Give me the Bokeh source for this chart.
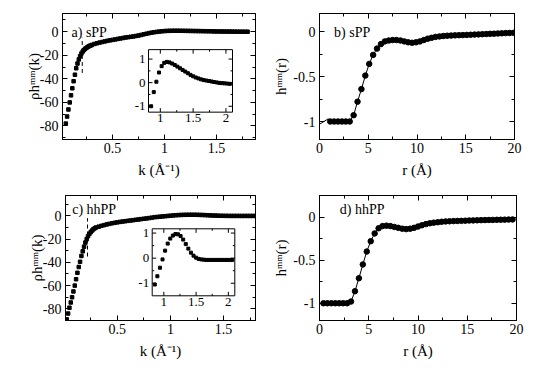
from bokeh.plotting import figure
from bokeh.layouts import column, row
from bokeh.models import (Range1d, LinearAxis, SingleIntervalTicker, Label, CustomJSTickFormatter,
                          CustomLabelingPolicy)
from bokeh.core.properties import value
from bokeh.embed import file_html
from bokeh.resources import INLINE

SERIF = "Liberation Serif"

# ---------------- data ----------------
# panel a) sPP : rho h^mm(k)
k_a = [0.05, 0.0625, 0.075, 0.0875, 0.1, 0.1125, 0.125, 0.1375, 0.15, 0.1625, 0.175, 0.1875, 0.2,
       0.2125, 0.225, 0.2375, 0.25, 0.2625, 0.275, 0.2875, 0.3,
       0.325, 0.35, 0.375, 0.4, 0.425, 0.45, 0.475, 0.5, 0.525, 0.55,
       0.575, 0.6, 0.625, 0.65, 0.675, 0.7, 0.725, 0.75, 0.775, 0.8,
       0.825, 0.85, 0.875, 0.9, 0.925, 0.95, 0.975, 1.0, 1.025, 1.05,
       1.075, 1.1, 1.125, 1.15, 1.175, 1.2, 1.225, 1.25, 1.275, 1.3,
       1.325, 1.35, 1.375, 1.4, 1.425, 1.45, 1.475, 1.5, 1.525, 1.55,
       1.575, 1.6, 1.625, 1.65, 1.675, 1.7, 1.725, 1.75, 1.775, 1.8]
rh_a = [-78, -72, -66, -60, -54, -48, -42, -36.5, -31, -27, -23.5, -20.8, -18.5,
        -16.8, -15.5, -14.4, -13.5, -12.8, -12.2, -11.7, -11.2,
        -10.4, -9.8, -9.2, -8.7, -8.2, -7.7, -7.3, -6.9, -6.5, -6.1,
        -5.7, -5.3, -4.9, -4.6, -4.3, -4.0, -3.6, -3.2, -2.7, -2.2,
        -1.7, -1.2, -0.75, -0.4, -0.12, 0.15, 0.4, 0.58, 0.72, 0.81,
        0.86, 0.88, 0.87, 0.85, 0.82, 0.78, 0.74, 0.70, 0.65, 0.61,
        0.56, 0.52, 0.48, 0.44, 0.40, 0.36, 0.31, 0.27, 0.24, 0.21,
        0.18, 0.16, 0.14, 0.12, 0.10, 0.09, 0.075, 0.06, 0.045, 0.03]
k_ins = [0.86, 0.90, 0.94, 0.98, 1.02, 1.06, 1.10, 1.14, 1.18, 1.22, 1.26, 1.30, 1.34, 1.38, 1.42,
         1.46, 1.50, 1.54, 1.58, 1.62, 1.66, 1.70, 1.74, 1.78, 1.82, 1.86, 1.90, 1.94, 1.98, 2.02, 2.06]
rh_ins_a = [-1.0, -0.4, 0.04, 0.43, 0.70, 0.84, 0.88, 0.86, 0.81, 0.75, 0.68, 0.61, 0.54, 0.47, 0.40,
            0.33, 0.27, 0.22, 0.18, 0.14, 0.11, 0.09, 0.07, 0.05, 0.03, 0.01, -0.01, -0.02, -0.03, -0.04, -0.05]
cut_a = [0.208]
cut_a_span = [-35, -5]

# panel c) hhPP : rho h^mm(k)
k_c = [0.025, 0.0375, 0.05, 0.0625, 0.075, 0.0875, 0.1, 0.1125, 0.125, 0.1375, 0.15, 0.1625, 0.175,
       0.1875, 0.2, 0.2125, 0.225, 0.2375, 0.25, 0.2625, 0.275, 0.2875, 0.3,
       0.325, 0.35, 0.375, 0.4, 0.425, 0.45, 0.475, 0.5, 0.525, 0.55,
       0.575, 0.6, 0.625, 0.65, 0.675, 0.7, 0.725, 0.75, 0.775, 0.8,
       0.825, 0.85, 0.875, 0.9, 0.925, 0.95, 0.975, 1.0, 1.025, 1.05,
       1.075, 1.1, 1.125, 1.15, 1.175, 1.2, 1.225, 1.25, 1.275, 1.3,
       1.325, 1.35, 1.375, 1.4, 1.425, 1.45, 1.475, 1.5, 1.525, 1.55,
       1.575, 1.6, 1.625, 1.65, 1.675, 1.7, 1.725, 1.75, 1.775, 1.8]
rh_c = [-89, -84, -79, -74.5, -70, -65, -60, -54.5, -49, -44, -39.5, -34.5, -30.5,
        -26.5, -23, -20, -17.5, -15.5, -14, -12.7, -11.6, -10.7, -10,
        -9.3, -8.6, -8.0, -7.4, -6.9, -6.4, -6.0, -5.6, -5.2, -4.9,
        -4.6, -4.3, -4.0, -3.7, -3.4, -3.1, -2.8, -2.5, -2.2, -1.9,
        -1.55, -1.15, -0.95, -0.72, -0.5, -0.3, -0.09, 0.12, 0.33, 0.52,
        0.66, 0.78, 0.86, 0.92, 0.95, 0.96, 0.94, 0.90, 0.83, 0.74,
        0.63, 0.51, 0.40, 0.30, 0.21, 0.13, 0.07, 0.02, -0.01, -0.03,
        -0.05, -0.06, -0.06, -0.07, -0.07, -0.07, -0.07, -0.07, -0.07, -0.07]
rh_ins_c = [-1.05, -0.72, -0.38, -0.05, 0.30, 0.58, 0.78, 0.90, 0.96, 0.95, 0.88, 0.74, 0.56, 0.38, 0.22,
            0.10, 0.02, -0.03, -0.05, -0.06, -0.07, -0.07, -0.07, -0.07, -0.07, -0.07, -0.07, -0.07, -0.07, -0.07, -0.07]
cut_c = [0.22]
cut_c_span = [-35, -2]

# panel b) sPP : h^mm(r)
r_b = [1.1, 1.5, 1.9, 2.3, 2.7, 3.1, 3.5, 3.9, 4.3, 4.7, 5.1, 5.5, 5.9, 6.3, 6.7, 7.1, 7.5, 7.9,
       8.3, 8.7, 9.1, 9.5, 9.9, 10.3, 10.7, 11.1, 11.5, 11.9, 12.3, 12.7, 13.1, 13.5, 13.9, 14.3,
       14.7, 15.1, 15.5, 15.9, 16.3, 16.7, 17.1, 17.5, 17.9, 18.3, 18.7, 19.1, 19.5, 19.9]
h_b = [-1.0, -1.0, -1.0, -1.0, -1.0, -1.0, -0.93, -0.78, -0.64, -0.49, -0.36, -0.26, -0.19, -0.14,
       -0.11, -0.10, -0.095, -0.095, -0.10, -0.11, -0.12, -0.125, -0.12, -0.11, -0.095, -0.08,
       -0.07, -0.06, -0.055, -0.05, -0.047, -0.045, -0.043, -0.041, -0.04, -0.038, -0.036, -0.034,
       -0.032, -0.03, -0.028, -0.026, -0.024, -0.022, -0.02, -0.018, -0.016, -0.015]
r_b_lead = [0.0, 0.9]
h_b_lead = [-1.03, -0.97]

# panel d) hhPP : h^mm(r)
r_d = [0.4, 0.8, 1.2, 1.6, 2.0, 2.4, 2.8, 3.2, 3.6, 4.0, 4.4, 4.8, 5.2, 5.6, 6.0, 6.4, 6.8, 7.2,
       7.6, 8.0, 8.4, 8.8, 9.2, 9.6, 10.0, 10.4, 10.8, 11.2, 11.6, 12.0, 12.4, 12.8, 13.2, 13.6,
       14.0, 14.4, 14.8, 15.2, 15.6, 16.0, 16.4, 16.8, 17.2, 17.6, 18.0, 18.4, 18.8, 19.2, 19.6]
h_d = [-1.0, -1.0, -1.0, -1.0, -1.0, -1.0, -1.0, -0.98, -0.86, -0.71, -0.55, -0.40, -0.28, -0.19,
       -0.13, -0.105, -0.10, -0.105, -0.115, -0.125, -0.135, -0.14, -0.135, -0.125, -0.11, -0.095,
       -0.082, -0.072, -0.065, -0.06, -0.055, -0.051, -0.049, -0.047, -0.045, -0.044, -0.042,
       -0.04, -0.039, -0.038, -0.036, -0.035, -0.034, -0.033, -0.032, -0.031, -0.03, -0.029, -0.028]
r_d_lead = [0.2]
h_d_lead = [-1.0]

# inset axes ticks
ins_x_major = [1, 1.5, 2]
ins_x_labels = ["1", "1.5", "2"]
ins_x_minor = [1.25, 1.75]
ins_y_major = [-1, 0, 1]
ins_y_labels = ["-1", "0", "1"]
ins_y_minor = [-0.5, 0.5]

K_LABEL = "k (Å⁻¹)"
R_LABEL = "r (Å)"
RHO_LABEL = "ρhᵐᵐ(k)"
H_LABEL = "hᵐᵐ(r)"

FIG_W = 270
ROW1_H, ROW2_H = 193, 179


def fmt():
    return CustomJSTickFormatter(code="var v = Math.round(tick*1000)/1000; return v === 0 ? '0' : String(v);")


def no_labels():
    return CustomLabelingPolicy(code="for (const i of indices) indices.unset(i); return indices;")


class Panel:
    """figure placed at page origin (ox, oy) whose frame occupies a known pixel box"""

    def __init__(self, ox, oy, h, xr, yr, frame, xint, yint, xlabel, ylabel, ystandoff):
        fl, fr, ft, fb = frame  # page pixel box of the frame
        self.ox, self.oy = ox, oy
        self.xr, self.yr = xr, yr
        self.fl, self.fr, self.ft, self.fb = fl, fr, ft, fb
        p = figure(width=FIG_W, height=h, x_range=Range1d(*xr), y_range=Range1d(*yr),
                   output_backend="svg", toolbar_location=None,
                   min_border_left=round(fl - ox), min_border_right=round(ox + FIG_W - fr),
                   min_border_top=round(ft - oy), min_border_bottom=round(oy + h - fb))
        p.xgrid.visible = False
        p.ygrid.visible = False
        p.outline_line_color = "black"
        p.background_fill_color = "white"
        p.border_fill_color = "white"
        xt = SingleIntervalTicker(interval=xint, num_minor_ticks=2)
        yt = SingleIntervalTicker(interval=yint, num_minor_ticks=2)
        for ax, t in ((p.xaxis[0], xt), (p.yaxis[0], yt)):
            ax.ticker = t
            ax.formatter = fmt()
            ax.major_tick_in = 5
            ax.major_tick_out = 0
            ax.minor_tick_in = 3
            ax.minor_tick_out = 0
            ax.major_label_text_font = SERIF
            ax.major_label_text_font_size = "14px"
            ax.major_label_text_color = "black"
            ax.axis_label_text_font = SERIF
            ax.axis_label_text_font_style = "normal"
            ax.axis_label_text_font_size = "15px"
            ax.axis_label_text_color = "black"
            ax.axis_line_color = "black"
            ax.major_tick_line_color = "black"
            ax.minor_tick_line_color = "black"
        p.xaxis[0].axis_label = xlabel
        p.yaxis[0].axis_label = ylabel
        p.xaxis[0].major_label_standoff = 3
        p.yaxis[0].major_label_standoff = 4
        p.xaxis[0].axis_label_standoff = 6
        p.yaxis[0].axis_label_standoff = ystandoff
        for loc, t in (("above", xt), ("right", yt)):
            ax = LinearAxis(ticker=t, major_label_policy=no_labels(), major_label_text_font_size="0px",
                            major_label_standoff=0, axis_label_standoff=0,
                            major_tick_in=5, major_tick_out=0, minor_tick_in=3, minor_tick_out=0,
                            axis_line_color="black", major_tick_line_color="black",
                            minor_tick_line_color="black")
            p.add_layout(ax, loc)
        self.p = p

    # page pixel -> data coordinates of this panel
    def dx(self, px):
        return self.xr[0] + (px - self.fl) / (self.fr - self.fl) * (self.xr[1] - self.xr[0])

    def dy(self, py):
        return self.yr[1] - (py - self.ft) / (self.fb - self.ft) * (self.yr[1] - self.yr[0])

    def tag(self, px, py, text):
        self.p.add_layout(Label(x=self.dx(px), y=self.dy(py), text=text, text_font=SERIF,
                                text_font_size="14px", text_baseline="middle", text_color="black"))

    def inset(self, src_x, src_y, box, xs, ys):
        l, r, t, b = box
        sub = self.p.subplot(x_source=Range1d(*src_x), y_source=Range1d(*src_y),
                             x_target=Range1d(self.dx(l), self.dx(r)),
                             y_target=Range1d(self.dy(b), self.dy(t)))
        x0, x1 = src_x
        y0, y1 = src_y
        sub.quad(left=[x0], right=[x1], bottom=[y0], top=[y1], fill_color="white",
                 line_color="black", line_width=1)
        for ticks, ln in ((ins_x_major, 4), (ins_x_minor, 2)):
            n = len(ticks)
            sub.ray(x=ticks, y=[y0] * n, length=ln, length_units="screen", angle=90,
                    angle_units="deg", line_color="black")
            sub.ray(x=ticks, y=[y1] * n, length=ln, length_units="screen", angle=-90,
                    angle_units="deg", line_color="black")
        for ticks, ln in ((ins_y_major, 4), (ins_y_minor, 2)):
            n = len(ticks)
            sub.ray(x=[x0] * n, y=ticks, length=ln, length_units="screen", angle=0,
                    angle_units="deg", line_color="black")
            sub.ray(x=[x1] * n, y=ticks, length=ln, length_units="screen", angle=180,
                    angle_units="deg", line_color="black")
        sub.text(x=ins_x_major, y=[y0] * len(ins_x_major), text=ins_x_labels,
                 text_font=value(SERIF), text_font_size="13px", text_align="center",
                 text_baseline="top", y_offset=2, text_color="black")
        sub.text(x=[x0] * len(ins_y_major), y=ins_y_major, text=ins_y_labels,
                 text_font=value(SERIF), text_font_size="13px", text_align="right",
                 text_baseline="middle", x_offset=-3, text_color="black")
        sub.scatter(xs, ys, marker="square", size=3, color="black")


# ---- a ----
A = Panel(0, 0, ROW1_H, (0.018, 1.876), (-91.5, 15.5), (62, 255, 13, 142), 0.5, 20,
          K_LABEL, RHO_LABEL, -5)
A.p.scatter(k_a, rh_a, marker="square", size=3.5, color="black")
A.p.segment(x0=cut_a, y0=[cut_a_span[0]], x1=cut_a, y1=[cut_a_span[1]], line_color="black",
            line_dash="4 3", line_width=1)
A.inset((0.82, 2.1), (-1.25, 1.4), (148, 232, 50, 114), k_ins, rh_ins_a)
A.tag(71, 32, "a) sPP")

# ---- b ----
B = Panel(270, 0, ROW1_H, (0, 20), (-1.2, 0.2), (313, 514, 13, 139), 5, 0.5,
          R_LABEL, H_LABEL, 1)
B.p.line(r_b_lead + r_b, h_b_lead + h_b, line_color="black", line_width=1)
B.p.scatter(r_b, h_b, marker="circle", size=5.5, color="black")
B.tag(328, 32, "b) sPP")

# ---- c ----
C = Panel(0, ROW1_H, ROW2_H, (0.013, 1.8), (-90, 17.5), (65, 255, 195, 320), 0.5, 20,
          K_LABEL, RHO_LABEL, -5)
C.p.scatter(k_c, rh_c, marker="square", size=3.5, color="black")
C.p.segment(x0=cut_c, y0=[cut_c_span[0]], x1=cut_c, y1=[cut_c_span[1]], line_color="black",
            line_dash="4 3", line_width=1)
C.inset((0.82, 2.1), (-1.5, 1.17), (151.7, 234.3, 228.3, 295.3), k_ins, rh_ins_c)
C.tag(71.7, 209, "c) hhPP")

# ---- d ----
D = Panel(270, ROW1_H, ROW2_H, (0, 20), (-1.2, 0.25), (312, 516, 195, 325), 5, 0.5,
          R_LABEL, H_LABEL, 1)
D.p.line(r_d_lead + r_d, h_d_lead + h_d, line_color="black", line_width=1)
D.p.scatter(r_d, h_d, marker="circle", size=5.5, color="black")
D.tag(333, 210, "d) hhPP")

layout = column(row(A.p, B.p), row(C.p, D.p))
open("out.html", "w").write(file_html(layout, INLINE))
